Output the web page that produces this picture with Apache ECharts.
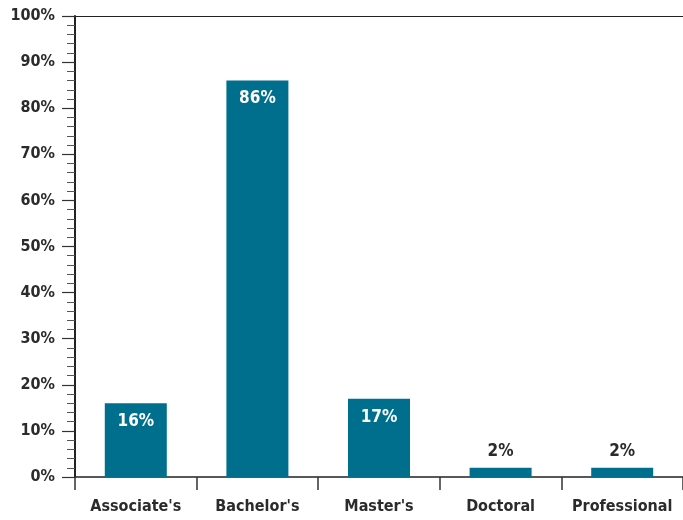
<!DOCTYPE html>
<html><head><meta charset="utf-8">
<script src="https://cdn.jsdelivr.net/npm/echarts@6/dist/echarts.min.js"></script>
<style>html,body{margin:0;padding:0;background:#fff}#c{width:683px;height:520px}</style>
</head><body><div id="c"></div>
<script>
const categories = ["Associate's", "Bachelor's", "Master's", "Doctoral", "Professional"];
const values = [16, 86, 17, 2, 2];
const yTicks = [0, 10, 20, 30, 40, 50, 60, 70, 80, 90, 100];

const FONT = '"DejaVu Sans Condensed", "Liberation Sans Narrow", sans-serif';
const TXT = '#2b2b2b';
const BAR = '#006f8e';

const chart = echarts.init(document.getElementById('c'), null, {renderer: 'canvas'});
chart.setOption({
  animation: false,
  grid: {left: 75, right: 0, top: 16, bottom: 43, containLabel: false},
  xAxis: [{
    type: 'category', data: categories, position: 'bottom',
    axisLine: {lineStyle: {color: '#222', width: 1.5}},
    axisTick: {show: true, interval: 0, length: 13, lineStyle: {color: '#333', width: 1.5}, alignWithLabel: false},
    axisLabel: {interval: 0, color: TXT, fontFamily: FONT, fontWeight: 'bold', fontSize: 16, margin: 22}
  }, {
    type: 'category', data: categories, position: 'top',
    axisLine: {show: true, lineStyle: {color: '#222', width: 1.2}},
    axisTick: {show: false}, axisLabel: {show: false}
  }],
  yAxis: {
    type: 'value', min: 0, max: 100, interval: 10, splitNumber: 10,
    axisLine: {show: true, lineStyle: {color: '#222', width: 2}},
    axisTick: {show: true, length: 13, inside: false, lineStyle: {color: '#333', width: 1.2}},
    minorTick: {show: true, splitNumber: 5, length: 8, lineStyle: {color: '#555', width: 1}},
    splitLine: {show: false},
    axisLabel: {color: TXT, fontFamily: FONT, fontWeight: 'bold', fontSize: 16, margin: 20,
      formatter: v => yTicks.includes(v) ? v + '%' : ''}
  },
  series: [{
    type: 'bar', barWidth: 62,
    itemStyle: {color: BAR},
    data: values.map(v => ({
      value: v,
      label: v > 5
        ? {show: true, position: 'insideTop', distance: 10, color: '#fff'}
        : {show: true, position: 'top', distance: 8, color: TXT}
    })),
    label: {fontFamily: FONT, fontWeight: 'bold', fontSize: 17, formatter: p => p.value + '%'}
  }]
});
</script></body></html>
